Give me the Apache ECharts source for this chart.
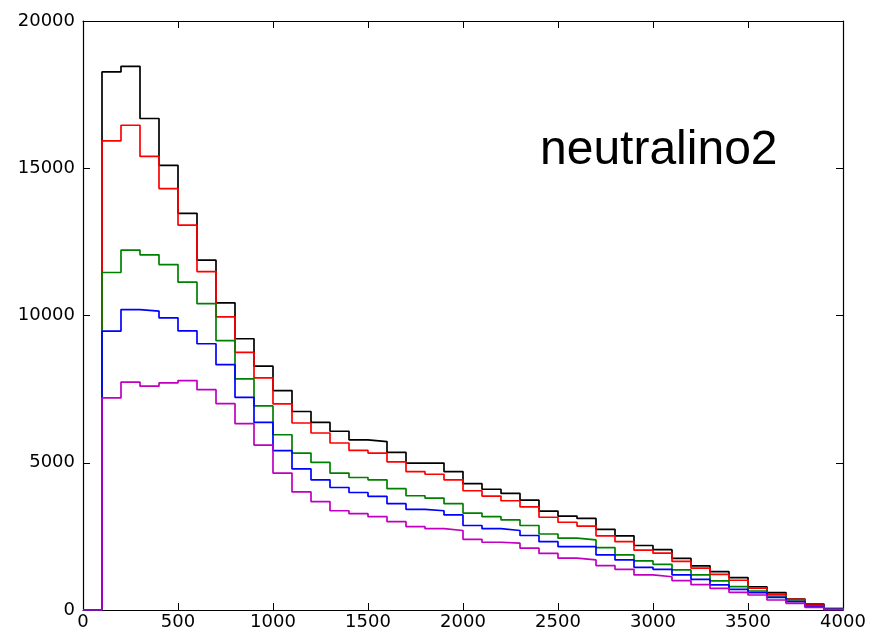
<!DOCTYPE html>
<html>
<head>
<meta charset="utf-8">
<title>neutralino2</title>
<script src="https://cdn.jsdelivr.net/npm/echarts@6/dist/echarts.min.js"></script>
<style>
  html, body { margin: 0; padding: 0; background: #fff; }
  #main { width: 873px; height: 634px; }
</style>
</head>
<body>
<div id="main"></div>
<script>
// histogram bins: 100 wide, first filled bin starts at 100, last ends at 4000
var binStart = 100;
var binWidth = 100;

var xTicks = [0, 500, 1000, 1500, 2000, 2500, 3000, 3500, 4000];
var yTicks = [0, 5000, 10000, 15000, 20000];

// bin contents (bins 100-200 ... 3900-4000)
var blackVals = [18270, 18460, 16690, 15100, 13470, 11880, 10430, 9210, 8280, 7450,
  6740, 6370, 6070, 5780, 5720, 5350, 4990, 4990, 4700, 4290,
  4100, 3960, 3730, 3360, 3190, 3110, 2740, 2520, 2190, 2050,
  1750, 1500, 1300, 1100, 790, 590, 370, 200, 30];
var redVals = [15930, 16460, 15400, 14310, 13070, 11490, 9950, 8750, 7880, 7000,
  6350, 6010, 5670, 5420, 5330, 5030, 4700, 4610, 4420, 4050,
  3870, 3710, 3500, 3150, 2980, 2850, 2520, 2320, 2030, 1930,
  1650, 1420, 1210, 1010, 740, 540, 360, 170, 60];
var greenVals = [11460, 12220, 12060, 11730, 11130, 10400, 9150, 7850, 6930, 5950,
  5330, 5010, 4650, 4500, 4420, 4120, 3880, 3800, 3610, 3290,
  3170, 3060, 2870, 2580, 2440, 2380, 2120, 1870, 1670, 1550,
  1360, 1190, 990, 794, 646, 476, 306, 136, 30];
var blueVals = [9470, 10200, 10150, 9920, 9480, 9040, 8330, 7220, 6370, 5410,
  4790, 4420, 4160, 3990, 3860, 3610, 3420, 3370, 3230, 2870,
  2760, 2700, 2530, 2320, 2150, 2150, 1870, 1700, 1450, 1380,
  1190, 1040, 850, 700, 590, 430, 283, 113, 20];
var magentaVals = [7200, 7740, 7600, 7710, 7790, 7480, 7010, 6330, 5600, 4650,
  4010, 3680, 3370, 3270, 3170, 3000, 2830, 2760, 2700, 2400,
  2300, 2270, 2100, 1920, 1760, 1700, 1510, 1380, 1190, 1130,
  1000, 860, 737, 601, 510, 340, 227, 91, 10];

var seriesNames = ['black', 'red', 'green', 'blue', 'magenta'];
var seriesColors = ['#000000', '#ff0000', '#008000', '#0000ff', '#bf00bf'];
var seriesVals = [blackVals, redVals, greenVals, blueVals, magentaVals];

// step outline like matplotlib histtype='step'
function stepData(vals) {
  var pts = [[0, 0]];
  for (var i = 0; i < vals.length; i++) {
    pts.push([binStart + i * binWidth, vals[i]]);
  }
  pts.push([binStart + vals.length * binWidth, 0]);
  return pts;
}

var myChart = echarts.init(document.getElementById('main'));

var font = 'DejaVu Sans';
var series = [];
for (var k = 0; k < seriesVals.length; k++) {
  series.push({
    name: seriesNames[k],
    type: 'line',
    step: 'end',
    data: stepData(seriesVals[k]),
    showSymbol: false,
    symbol: 'none',
    animation: false,
    lineStyle: { color: seriesColors[k], width: 1.7 },
    z: 2 + k
  });
}

var option = {
  backgroundColor: '#fff',
  animation: false,
  title: {
    text: 'neutralino2',
    left: 535,
    top: 122,
    textStyle: {
      fontFamily: 'Liberation Sans',
      fontSize: 48,
      fontWeight: 'normal',
      color: '#000'
    }
  },
  grid: { left: 83, right: 30, top: 21, bottom: 24 },
  xAxis: [{
    type: 'value',
    min: 0,
    max: 4000,
    interval: 500,
    axisLine: { show: true, onZero: false, lineStyle: { color: '#000', width: 1.2 } },
    axisTick: { show: true, inside: true, length: 7, lineStyle: { color: '#000' } },
    axisLabel: { color: '#000', fontSize: 18, fontFamily: font, margin: 3,
      formatter: function (v) { return xTicks.indexOf(v) >= 0 ? String(v) : ''; } },
    splitLine: { show: false }
  }, {
    type: 'value',
    position: 'top',
    min: 0,
    max: 4000,
    interval: 500,
    axisLine: { show: true, onZero: false, lineStyle: { color: '#000', width: 1.2 } },
    axisTick: { show: true, inside: true, length: 7, lineStyle: { color: '#000' } },
    axisLabel: { show: false },
    splitLine: { show: false }
  }],
  yAxis: [{
    type: 'value',
    min: 0,
    max: 20000,
    interval: 5000,
    axisLine: { show: true, onZero: false, lineStyle: { color: '#000', width: 1.2 } },
    axisTick: { show: true, inside: true, length: 7, lineStyle: { color: '#000' } },
    axisLabel: { color: '#000', fontSize: 18, fontFamily: font, margin: 8,
      formatter: function (v) { return yTicks.indexOf(v) >= 0 ? String(v) : ''; } },
    splitLine: { show: false }
  }, {
    type: 'value',
    position: 'right',
    min: 0,
    max: 20000,
    interval: 5000,
    axisLine: { show: true, onZero: false, lineStyle: { color: '#000', width: 1.2 } },
    axisTick: { show: true, inside: true, length: 7, lineStyle: { color: '#000' } },
    axisLabel: { show: false },
    splitLine: { show: false }
  }],
  series: series
};

myChart.setOption(option);
</script>
</body>
</html>
